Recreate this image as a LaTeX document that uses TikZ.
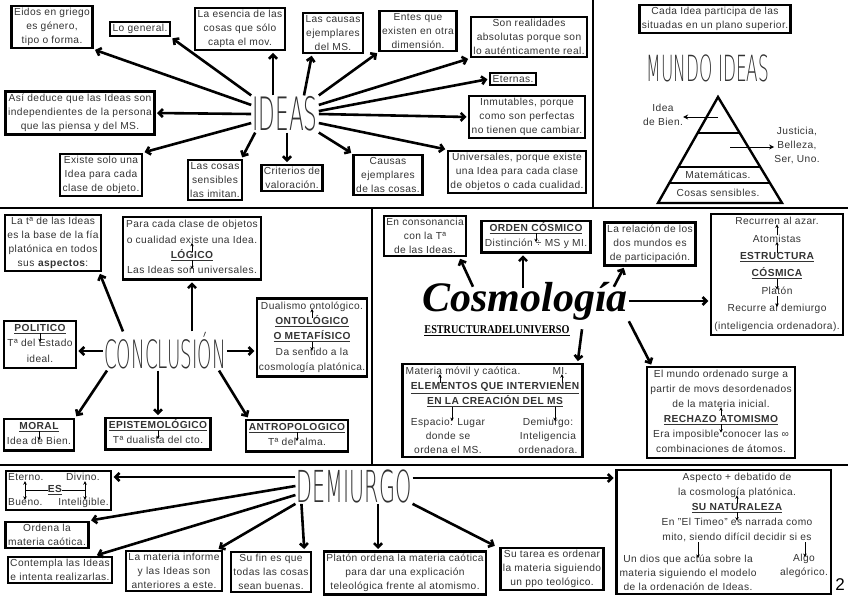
\documentclass[tikz,border=0pt]{standalone}
\usepackage{fontspec}
\setmainfont[LetterSpace=4]{Liberation Sans}
\newfontfamily\handfont[FakeStretch=0.47]{DejaVu Sans ExtraLight}
\newfontfamily\cosmofont{Liberation Serif}
\newfontfamily\slabfont[FakeStretch=0.85]{Liberation Serif}
\usepackage{tikz}
\usetikzlibrary{arrows.meta,positioning,fit,calc}
\newcommand{\bodysize}{\fontsize{10.2}{14}\selectfont}
\definecolor{inkgray}{gray}{0.2}

\begin{document}
\begin{tikzpicture}[
    x=1pt, y=-1pt,
    box/.style={draw, line width=2.4pt, inner sep=2.5pt, align=center, font=\bodysize, text=inkgray},
    boxframe/.style={draw, line width=2.4pt, inner sep=3pt},
    txtline/.style={inner sep=0pt, text height=7.5pt, text depth=2.5pt, font=\bodysize, text=inkgray},
    subhead/.style={txtline, font=\bodysize\bfseries},
    column/.style={inner sep=0pt, align=center, font=\bodysize, text=inkgray},
    bigword/.style={inner sep=1pt, font=\handfont\fontsize{#1}{#1}\selectfont, text=inkgray},
    arrow/.style={line width=2.6pt, -{Straight Barb[length=4pt,width=8pt]}, shorten >=1.5pt},
    tip/.style={line width=0.9pt, -{Stealth[length=3.5pt,width=3.5pt]}, shorten <=-1pt, shorten >=-3pt},
    twotip/.style={line width=0.9pt, {Stealth[length=3.5pt,width=3.5pt]}-{Stealth[length=3.5pt,width=3.5pt]}, shorten <=-2pt, shorten >=-2pt},
    thinarrow/.style={line width=1pt, -{Stealth[length=5pt,width=5pt]}},
    divider/.style={line width=2.4pt}
]
  \useasboundingbox (0,0) rectangle (848,600);

  % Panel lines
  \draw[divider] (593,0) -- (593,208);
  \draw[divider] (0,208) -- (848,208);
  \draw[divider] (372,208) -- (372,465);
  \draw[divider] (0,465) -- (848,465);

  % IDEAS
  \node[bigword=46] (ideas) at (285,114) {IDEAS};
  \node[box] (eidos) at (52,27) {Eidos en griego\\es género,\\tipo o forma.};
  \node[box] (general) at (140,29) {Lo general.};
  \node[box] (esencia) at (240,29) {La esencia de las\\cosas que sólo\\capta el mov.};
  \node[box] (causas) at (333,33) {Las causas\\ejemplares\\del MS.};
  \node[box] (entes) at (418,31) {Entes que\\existen en otra\\dimensión.};
  \node[box] (realidades) at (529,37) {Son realidades\\absolutas porque son\\lo auténticamente real.};
  \node[box] (eternas) at (513,79) {Eternas.};
  \node[box] (inmutables) at (527,117) {Inmutables, porque\\como son perfectas\\no tienen que cambiar.};
  \node[box] (universales) at (517,172) {Universales, porque existe\\una Idea para cada clase\\de objetos o cada cualidad.};
  \node[box] (causascosas) at (388,175) {Causas\\ejemplares\\de las cosas.};
  \node[box] (criterios) at (292,178) {Criterios de\\valoración.};
  \node[box] (imitan) at (215,180) {Las cosas\\sensibles\\las imitan.};
  \node[box] (existe) at (101,175) {Existe solo una\\Idea para cada\\clase de objeto.};
  \node[box] (deduce) at (80,113) {Así deduce que las Ideas son\\independientes de la persona\\que las piensa y del MS.};

  \draw[arrow] (ideas.165) -- (eidos.south east);
  \draw[arrow] (ideas.north west) -- (general.south east);
  \draw[arrow] ([xshift=-12pt]ideas.north) -- ([xshift=33pt]esencia.south);
  \draw[arrow] ([xshift=19pt]ideas.north) -- ([xshift=-21pt]causas.south);
  \draw[arrow] (ideas.north east) -- (entes.south west);
  \draw[arrow] (ideas.15) -- (realidades.south west);
  \draw[arrow] (ideas.5) -- (eternas.west);
  \draw[arrow] (ideas.east) -- (inmutables.west);
  \draw[arrow] (ideas.-15) -- (universales.north west);
  \draw[arrow] (ideas.south east) -- (causascosas.north west);
  \draw[arrow] ([xshift=2pt]ideas.south) -- ([xshift=-5pt]criterios.north);
  \draw[arrow] ([xshift=4pt]ideas.south west) -- ([xshift=-2pt]imitan.north east);
  \draw[arrow] (ideas.-165) -- (existe.north east);
  \draw[arrow] (ideas.west) -- (deduce.east);

  % MUNDO IDEAS
  \node[box] (participa) at (715,19) {Cada Idea participa de las\\situadas en un plano superior.};
  \node[bigword=36] (mundo) at (708,68) {MUNDO IDEAS};
  \coordinate (apex) at (718,97);
  \coordinate (baseleft) at (658,203);
  \coordinate (baseright) at (782,203);
  \draw[line width=2.4pt] (apex) -- (baseleft) -- (baseright) -- cycle;
  \foreach \lvl in {0.34,0.66,0.81}
    \draw[line width=2.2pt] ($(apex)!\lvl!(baseleft)$) -- ($(apex)!\lvl!(baseright)$);
  \node[column] (mate) at (718,175) {Matemáticas.};
  \node[column] (sensibles) at (718,193) {Cosas sensibles.};
  \node[column] (bien) at (663,115) {Idea\\de Bien.};
  \node[column] (justicia) at (797,145) {Justicia,\\Belleza,\\Ser, Uno.};
  \coordinate (biensrc) at (718,117);
  \coordinate (justsrc) at (730,147);
  \draw[thinarrow] (biensrc) -- (bien.east |- biensrc);
  \draw[thinarrow] (justsrc) -- (justicia.west |- justsrc);

  % CONCLUSION
  \node[bigword=39] (concl) at (165,351) {CONCLUSIÓN};
  \node[box] (tideas) at (53,243) {La tª de las Ideas\\es la base de la fía\\platónica en todos\\sus \textbf{aspectos}:};

  \node[subhead] (loghead) at (192,256) {\underline{LÓGICO}};
  \node[txtline, above=5pt of loghead] (log2) {o cualidad existe una Idea.};
  \node[txtline, above=5pt of log2] (log1) {Para cada clase de objetos};
  \node[txtline, below=5pt of loghead] (log3) {Las Ideas son universales.};
  \node[boxframe, fit=(log1)(log2)(loghead)(log3)] (logbox) {};

  \node[subhead] (onthead) at (312,322) {\underline{ONTOLÓGICO}};
  \node[txtline, above=5pt of onthead] (ont1) {Dualismo ontológico.};
  \node[subhead, below=5pt of onthead] (onthead2) {\underline{O METAFÍSICO}};
  \node[txtline, below=5pt of onthead2] (ont2) {Da sentido a la};
  \node[txtline, below=5pt of ont2] (ont3) {cosmología platónica.};
  \node[boxframe, inner xsep=1.5pt, fit=(ont1)(onthead)(onthead2)(ont2)(ont3)] (ontbox) {};

  \node[subhead] (polhead) at (40,329) {\underline{POLITICO}};
  \node[txtline, below=5pt of polhead] (pol1) {Tª del Estado};
  \node[txtline, below=5pt of pol1] (pol2) {ideal.};
  \node[boxframe, fit=(polhead)(pol1)(pol2)] (polbox) {};

  \node[subhead] (morhead) at (39,427) {\underline{MORAL}};
  \node[txtline, below=5pt of morhead] (mor1) {Idea de Bien.};
  \node[boxframe, fit=(morhead)(mor1)] (morbox) {};

  \node[subhead] (epihead) at (158,426) {\underline{EPISTEMOLÓGICO}};
  \node[txtline, below=5pt of epihead] (epi1) {Tª dualista del cto.};
  \node[boxframe, fit=(epihead)(epi1)] (epibox) {};

  \node[subhead] (anthead) at (297,428) {\underline{ANTROPOLOGICO}};
  \node[txtline, below=5pt of anthead] (ant1) {Tª del alma.};
  \node[boxframe, fit=(anthead)(ant1)] (antbox) {};

  \draw[tip] (loghead.north) -- (log2.south);
  \draw[tip] (loghead.south) -- (log3.north);
  \draw[tip] (onthead.north) -- (ont1.south);
  \draw[tip] (onthead2.south) -- (ont2.north);
  \draw[tip] (polhead.south) -- (pol1.north);
  \draw[tip] (morhead.south) -- (mor1.north);
  \draw[tip] (epihead.south) -- (epi1.north);
  \draw[tip] (anthead.south) -- (ant1.north);

  \draw[arrow] ([xshift=20pt]concl.north west) -- ([xshift=-3pt]tideas.south east);
  \draw[arrow] (logbox.south |- concl.north) -- (logbox.south);
  \draw[arrow] (concl.east) -- (ontbox.west |- concl.east);
  \draw[arrow] (concl.west) -- (polbox.east |- concl.west);
  \draw[arrow] ([xshift=4pt]concl.south west) -- (morbox.north east);
  \draw[arrow] (epibox.north |- concl.south) -- (epibox.north);
  \draw[arrow] ([xshift=-8pt]concl.south east) -- ([xshift=4pt]antbox.north west);

  % COSMOLOGIA
  \node[inner sep=1pt, font=\cosmofont\bfseries\itshape\fontsize{42}{42}\selectfont] (cosmo) at (525,301) {Cosmología};
  \node[inner sep=0pt, font=\slabfont\bfseries\fontsize{12}{12}\selectfont] (estruct) at (497,331) {\underline{ESTRUCTURADELUNIVERSO}};
  \node[box] (consonancia) at (425,236) {En consonancia\\con la Tª\\de las Ideas.};
  \node[box] (relacion) at (650,244) {La relación de los\\dos mundos es\\de participación.};

  \node[subhead] (ordhead) at (536,229) {\underline{ORDEN CÓSMICO}};
  \node[txtline, below=5pt of ordhead] (ord1) {Distinción ÷ MS y MI.};
  \node[boxframe, fit=(ordhead)(ord1)] (ordbox) {};

  \node[subhead] (esthead) at (777,257) {\underline{ESTRUCTURA}};
  \node[txtline, above=7pt of esthead] (est2) {Atomistas};
  \node[txtline, above=7pt of est2] (est1) {Recurren al azar.};
  \node[subhead, below=7pt of esthead] (esthead2) {\underline{CÓSMICA}};
  \node[txtline, below=7pt of esthead2] (est3) {Platón};
  \node[txtline, below=7pt of est3] (est4) {Recurre al demiurgo};
  \node[txtline, below=7pt of est4] (est5) {(inteligencia ordenadora).};
  \node[boxframe, fit=(est1)(est2)(esthead)(esthead2)(est3)(est4)(est5)] (estbox) {};

  \node[subhead] (rechead) at (721,420) {\underline{RECHAZO ATOMISMO}};
  \node[txtline, above=4.5pt of rechead] (rec3) {de la materia inicial.};
  \node[txtline, above=4.5pt of rec3] (rec2) {partir de movs desordenados};
  \node[txtline, above=4.5pt of rec2] (rec1) {El mundo ordenado surge a};
  \node[txtline, below=4.5pt of rechead] (rec4) {Era imposible conocer las ∞};
  \node[txtline, below=4.5pt of rec4] (rec5) {combinaciones de átomos.};
  \node[boxframe, fit=(rec1)(rec2)(rec3)(rechead)(rec4)(rec5)] (recbox) {};

  \node[subhead] (elehead) at (495,387) {\underline{ELEMENTOS QUE INTERVIENEN}};
  \node[subhead, below=5pt of elehead] (elehead2) {\underline{EN LA CREACIÓN DEL MS}};
  \node[txtline] (materia) at (463,372) {Materia móvil y caótica.};
  \node[txtline] (mi) at (560,372) {MI.};
  \node[column] (espacio) at (448,436) {Espacio: Lugar\\donde se\\ordena el MS.};
  \node[column] (demiurgo) at (548,436) {Demiurgo:\\Inteligencia\\ordenadora.};
  \node[boxframe, fit=(materia)(mi)(elehead)(elehead2)(espacio)(demiurgo)] (elebox) {};

  \draw[tip] (ordhead.south) -- (ord1.north);
  \draw[tip] (est2.north) -- (est1.south);
  \draw[tip] (esthead.north) -- (est2.south);
  \draw[tip] (esthead2.south) -- (est3.north);
  \draw[tip] (est3.south) -- (est4.north);
  \draw[tip] (rechead.north) -- (rec3.south);
  \draw[tip] (rechead.south) -- (rec4.north);
  \draw[tip] ([xshift=-55pt]elehead.north) -- ([xshift=-23pt]materia.south);
  \draw[tip] ([xshift=67pt]elehead.north) -- ([xshift=2pt]mi.south);
  \draw[tip] ([xshift=-43pt]elehead2.south) -- ([xshift=4pt]espacio.north);
  \draw[tip] ([xshift=60pt]elehead2.south) -- ([xshift=7pt]demiurgo.north);

  \draw[arrow] ([xshift=-52pt,yshift=-6pt]cosmo.north) -- ([xshift=-8pt]consonancia.south east);
  \draw[arrow] ([xshift=-2pt,yshift=-7pt]cosmo.north) -- ([xshift=-13pt]ordbox.south);
  \draw[arrow] ([xshift=-15pt,yshift=-6pt]cosmo.north east) -- ([xshift=21pt]relacion.south west);
  \draw[arrow] (cosmo.east) -- (estbox.west |- cosmo.east);
  \draw[arrow] (cosmo.south east) -- ([xshift=6pt]recbox.north west);
  \draw[arrow] ([xshift=57pt,yshift=-8pt]cosmo.south) -- ([xshift=-6pt]elebox.north east);

  % DEMIURGO
  \node[bigword=44] (demi) at (354,486) {DEMIURGO};

  \node[subhead] (eshead) at (55,490) {\underline{ES}};
  \node[txtline, anchor=west] (eterno) at (8,478) {Eterno.};
  \node[txtline, anchor=east] (divino) at (100,478) {Divino.};
  \node[txtline, anchor=west] (bueno) at (8,503) {Bueno.};
  \node[txtline, anchor=east] (intel) at (109,503) {Inteligible.};
  \node[boxframe, inner sep=2pt, fit=(eterno)(divino)(bueno)(intel)] (esbox) {};
  \coordinate (esleft) at (25,490);
  \coordinate (esright) at (85,490);
  \draw[line width=0.9pt] (eshead.west) -- (esleft);
  \draw[line width=0.9pt] (eshead.east) -- (esright);
  \draw[twotip] (eterno.south -| esleft) -- (bueno.north -| esleft);
  \draw[twotip] (divino.south -| esright) -- (intel.north -| esright);

  \node[box] (ordena) at (47,535) {Ordena la\\materia caótica.};
  \node[box] (contempla) at (60,570) {Contempla las Ideas\\e intenta realizarlas.};
  \node[box] (informe) at (174,571) {La materia informe\\y las Ideas son\\anteriores a este.};
  \node[box] (sufin) at (271,572) {Su fin es que\\todas las cosas\\sean buenas.};
  \node[box] (platon) at (405,573) {Platón ordena la materia caótica\\para dar una explicación\\teleológica frente al atomismo.};
  \node[box] (tarea) at (552,569) {Su tarea es ordenar\\la materia siguiendo\\un ppo teológico.};

  \node[subhead] (nathead) at (737,508) {\underline{SU NATURALEZA}};
  \node[txtline, above=4.5pt of nathead] (nat2) {la cosmología platónica.};
  \node[txtline, above=4.5pt of nat2] (nat1) {Aspecto + debatido de};
  \node[txtline, below=4.5pt of nathead] (nat3) {En "El Timeo" es narrada como};
  \node[txtline, below=4.5pt of nat3] (nat4) {mito, siendo difícil decidir si es};
  \node[column] (dios) at (688,573) {Un dios que actúa sobre la\\materia siguiendo el modelo\\de la ordenación de Ideas.};
  \node[column] (algo) at (804,566) {Algo\\alegórico.};
  \node[boxframe, fit=(nat1)(nat2)(nathead)(nat3)(nat4)(dios)(algo)] (natbox) {};

  \draw[tip] (nathead.north) -- (nat2.south);
  \draw[tip] (nathead.south) -- (nat3.north);
  \draw[tip] ([xshift=-39pt]nat4.south) -- ([xshift=10pt]dios.north);
  \draw[tip] ([xshift=68pt]nat4.south) -- ([xshift=1pt]algo.north);

  \coordinate (demileft) at ([yshift=9pt]demi.west);
  \coordinate (demiright) at ([yshift=8pt]demi.east);
  \draw[arrow] (demileft) -- (esbox.east |- demileft);
  \draw[arrow] (demi.west) -- (ordena.north east);
  \draw[arrow] ([yshift=-9pt]demi.west) -- ([xshift=-18pt]contempla.north east);
  \draw[arrow] (demi.south west) -- ([xshift=-6pt]informe.north east);
  \draw[arrow] ([xshift=6pt]demi.south west) -- ([xshift=-8pt]sufin.north east);
  \draw[arrow] ([xshift=24pt]demi.south) -- ([xshift=-27pt]platon.north);
  \draw[arrow] (demi.south east) -- ([xshift=-3pt]tarea.north west);
  \draw[arrow] (demiright) -- (natbox.west |- demiright);

  \node[inner sep=0pt, font=\fontsize{17}{17}\selectfont] (pagenum) at (840,585) {2};
\end{tikzpicture}
\end{document}
